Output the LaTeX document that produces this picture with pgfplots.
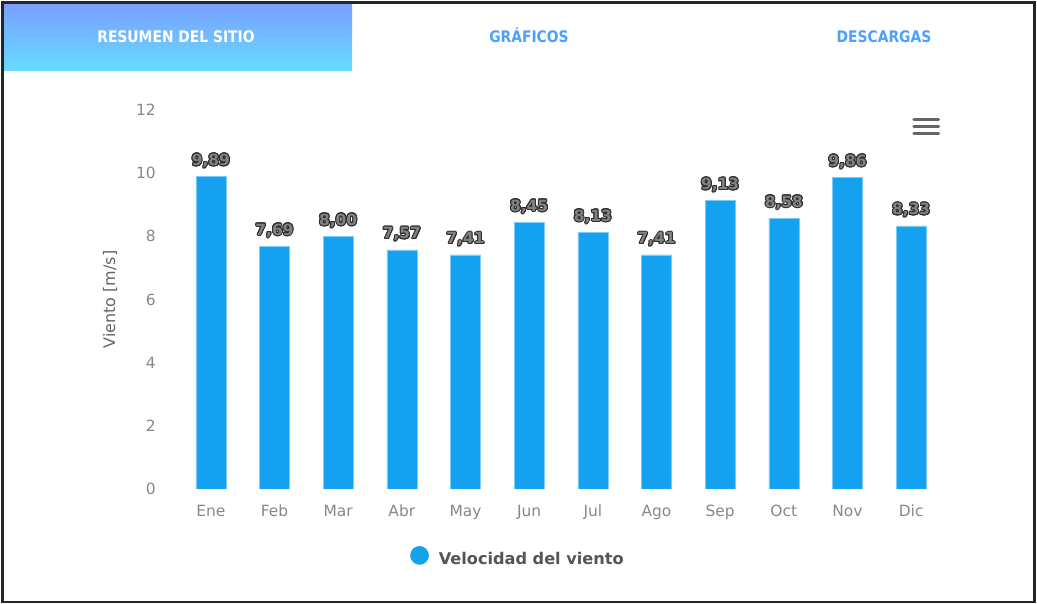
\documentclass[border=0pt]{standalone}
\usepackage{fontspec}
\setmainfont{DejaVu Sans}
\usepackage{pgfplots}
\pgfplotsset{compat=1.18}
\usepackage[copies]{contour}
\contourlength{1pt}
\definecolor{barblue}{RGB}{20,161,239}
\definecolor{tickgray}{RGB}{136,136,136}
\definecolor{labgray}{RGB}{102,102,102}
\definecolor{leggray}{RGB}{85,85,85}
\definecolor{tabblue}{RGB}{77,160,255}
\definecolor{dlfill}{RGB}{130,130,130}
\definecolor{dlline}{RGB}{45,45,45}
\newcommand\dl[1]{\contour{dlline}{\textcolor{dlfill}{#1}}}
\begin{document}
\begin{tikzpicture}[x=1bp,y=1bp]
\path[use as bounding box] (0,0) rectangle (1037,604);
\fill[white] (0,0) rectangle (1037,604);
\shade[top color={rgb,255:red,122;green,158;blue,255}, bottom color={rgb,255:red,102;green,220;blue,255}] (3,533) rectangle (352,601);
\draw[line width=2.2bp, black!85] (2.5,2) rectangle (1034.5,601.5);
\node[white, inner sep=0pt, anchor=base] at (176,561.5) {\scalebox{0.87}[1]{\fontsize{16}{18}\selectfont\bfseries RESUMEN DEL SITIO}};
\node[tabblue, inner sep=0pt, anchor=base] at (529,561.5) {\scalebox{0.87}[1]{\fontsize{16}{18}\selectfont\bfseries GRÁFICOS}};
\node[tabblue, inner sep=0pt, anchor=base] at (884,561.5) {\scalebox{0.87}[1]{\fontsize{16}{18}\selectfont\bfseries DESCARGAS}};
\draw[line width=3.4bp, line cap=round, labgray] (914,484.5)--(938.5,484.5) (914,477.5)--(938.5,477.5) (914,470.5)--(938.5,470.5);
\begin{axis}[
  at={(179bp,115bp)}, anchor=south west, scale only axis,
  width=764bp, height=379bp,
  xmin=-0.5, xmax=11.5, ymin=0, ymax=12,
  ybar, bar width=30bp,
  axis line style={draw=none}, major tick length=0pt,
  /pgf/number format/assume math mode=true,
  xtick={0,...,11},
  xticklabels={Ene,Feb,Mar,Abr,May,Jun,Jul,Ago,Sep,Oct,Nov,Dic},
  ytick={0,2,...,12},
  xticklabel style={anchor=base, inner sep=0pt, yshift=-28bp, font=\fontsize{15.5}{18}\selectfont, text=tickgray},
  yticklabel style={anchor=east, inner sep=0pt, xshift=-23bp, font=\fontsize{15.5}{18}\selectfont, text=tickgray},
  ylabel={Viento [m/s]},
  ylabel style={at={(axis description cs:-0.0903,0.5)}, anchor=center, font=\fontsize{16}{18}\selectfont, text=labgray},
  legend style={at={(axis description cs:0.3024,-0.1794)}, anchor=west, draw=none, fill=none, inner sep=0pt,
    font=\bfseries\fontsize{16.2}{18}\selectfont, text=leggray},
  legend cell align=left,
]
\addplot[fill=barblue, draw=barblue!55!white, line width=0.6bp,
  legend image code/.code={\fill[barblue] (9bp,0.36em) circle (9bp); \path (26bp,0.36em);},
  nodes near coords={\dl{\pgfmathprintnumber[fixed,fixed zerofill,precision=2,use comma,assume math mode=true]{\pgfplotspointmeta}}},
  nodes near coords style={anchor=base, inner sep=0pt, yshift=11bp, font=\bfseries\fontsize{15.5}{17}\selectfont}]
coordinates {(0,9.89) (1,7.69) (2,8.00) (3,7.57) (4,7.41) (5,8.45) (6,8.13) (7,7.41) (8,9.13) (9,8.58) (10,9.86) (11,8.33)};
\addlegendentry{Velocidad del viento}
\end{axis}
\end{tikzpicture}
\end{document}
